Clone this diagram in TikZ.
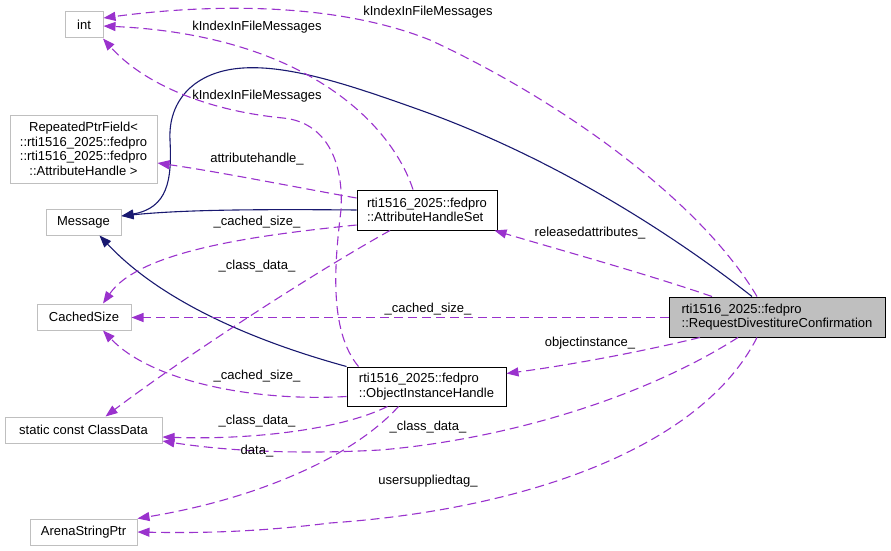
\documentclass[tikz,border=0pt]{standalone}
\usepackage{fontspec}
\setmainfont{Liberation Sans}
\usetikzlibrary{arrows.meta}
\definecolor{depc}{HTML}{9A32CD}
\definecolor{inhc}{HTML}{191970}
\definecolor{gboxc}{HTML}{BFBFBF}
\tikzset{
  every node/.style={font=\fontsize{13}{14.5}\selectfont},
  gnode/.style={draw=gboxc, line width=1pt, inner sep=0pt, align=center, text=black},
  bnode/.style={draw=black, line width=1pt, inner sep=0pt, align=left, text=black},
  depedge/.style={draw=depc, line width=1.1pt, dash pattern=on 9pt off 5pt, -{Triangle[length=12pt,width=9pt,fill=depc]}},
  inhedge/.style={draw=inhc, line width=1.1pt, -{Triangle[length=12pt,width=9pt,fill=inhc]}},
  elabel/.style={text=black, inner sep=0pt},
}
\begin{document}
\begin{tikzpicture}[x=1pt,y=-1pt]
\useasboundingbox (0,0) rectangle (891,551);
% nodes
\node[gnode, minimum width=38pt, minimum height=26pt] (int) at (84,25) {int};
\node[gnode, minimum width=147pt, minimum height=68pt] (rpf) at (83.5,149) {RepeatedPtrField<\\::rti1516\_2025::fedpro\\::rti1516\_2025::fedpro\\::AttributeHandle >};
\node[gnode, minimum width=75pt, minimum height=26pt] (msg) at (83.5,222) {Message};
\node[gnode, minimum width=94pt, minimum height=26pt] (cs) at (84,317) {CachedSize};
\node[gnode, minimum width=157pt, minimum height=26pt] (cd) at (83.5,430) {static const ClassData};
\node[gnode, minimum width=107pt, minimum height=26pt] (asp) at (83.5,532) {ArenaStringPtr};
\node[bnode, minimum width=140pt, minimum height=40pt] (ahs) at (427,210) {rti1516\_2025::fedpro\\::AttributeHandleSet};
\node[bnode, minimum width=159pt, minimum height=39pt] (oih) at (426.5,386.5) {rti1516\_2025::fedpro\\::ObjectInstanceHandle};
\node[bnode, fill=gboxc, minimum width=216pt, minimum height=40pt] (rdc) at (777,317) {rti1516\_2025::fedpro\\::RequestDivestitureConfirmation};
% inheritance
\draw[inhedge] (ahs.west) .. controls (250,209) and (180,210) .. ([yshift=6pt]msg.east);
\draw[inhedge] ([xshift=-25pt]rdc.north) .. controls (680,240) and (560,160) .. (420,110) .. controls (350,85) and (290,65) .. (243,68) .. controls (195,71) and (168,100) .. (170,140) .. controls (172,180) and (168,208) .. ([yshift=6pt]msg.east);
\draw[inhedge] (oih.north west) .. controls (250,340) and (160,300) .. ([xshift=16pt]msg.south);
% dependencies
\draw[depedge] ([xshift=-20pt]rdc.north) .. controls (700,200) and (560,100) .. (430,40) .. controls (330,0) and (200,5) .. ([yshift=7pt]int.east);
\draw[depedge] ([xshift=-14pt]ahs.north) .. controls (390,120) and (300,35) .. ([yshift=-1pt]int.east);
\draw[depedge] ([xshift=-68pt]oih.north) .. controls (328,330) and (335,260) .. (341,210) .. controls (344,160) and (325,122) .. (283,118) .. controls (200,110) and (140,80) .. ([xshift=19pt]int.south);
\draw[depedge] ([yshift=12pt]ahs.west) .. controls (300,188) and (220,172) .. ([yshift=-14pt]rpf.east);
\draw[depedge] ([yshift=-15pt]ahs.west) .. controls (260,235) and (140,250) .. ([xshift=19pt]cs.north);
\draw[depedge] ([xshift=-37pt]ahs.south) .. controls (310,275) and (180,360) .. ([xshift=22pt]cd.north);
\draw[depedge] ([yshift=-0.5pt]rdc.west) -- ([yshift=-0.5pt]cs.east);
\draw[depedge] ([yshift=-10pt]oih.west) .. controls (250,402) and (150,380) .. ([xshift=19pt]cs.south);
\draw[depedge] ([xshift=-39pt]oih.south) .. controls (340,430) and (250,440) .. ([yshift=-7pt]cd.east);
\draw[depedge] ([xshift=-39pt]rdc.south) .. controls (640,400) and (500,440) .. (380,450) .. controls (290,455) and (220,450) .. ([yshift=-11pt]cd.east);
\draw[depedge] ([xshift=-28pt]oih.south) .. controls (350,460) and (250,500) .. (asp.north east);
\draw[depedge] ([xshift=-20pt]rdc.south) .. controls (700,450) and (520,510) .. (330,523) .. controls (250,533) and (190,533) .. (asp.east);
\draw[depedge] ([xshift=-65pt]rdc.north) .. controls (650,275) and (560,250) .. ([xshift=-3pt]ahs.south east);
\draw[depedge] ([xshift=-77pt]rdc.south) .. controls (640,352) and (570,365) .. ([yshift=13pt]oih.east);
% labels
\node[elabel] (l1) at (428,12) {kIndexInFileMessages};
\node[elabel] (l2) at (257,27) {kIndexInFileMessages};
\node[elabel] (l3) at (257,96) {kIndexInFileMessages};
\node[elabel] (l4) at (257,159) {attributehandle\_};
\node[elabel] (l5) at (257,222) {\_cached\_size\_};
\node[elabel] (l6) at (257,266) {\_class\_data\_};
\node[elabel] (l7) at (428,309) {\_cached\_size\_};
\node[elabel] (l8) at (257,376) {\_cached\_size\_};
\node[elabel] (l9) at (257,421) {\_class\_data\_};
\node[elabel] (l10) at (257,451) {data\_};
\node[elabel] (l11) at (428,427) {\_class\_data\_};
\node[elabel] (l12) at (428,481) {usersuppliedtag\_};
\node[elabel] (l13) at (590,233) {releasedattributes\_};
\node[elabel] (l14) at (590,343) {objectinstance\_};
\end{tikzpicture}
\end{document}
